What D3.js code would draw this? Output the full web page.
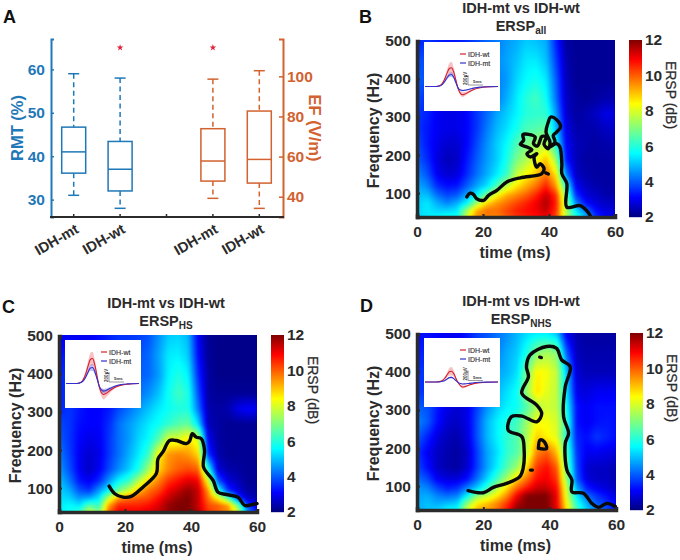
<!DOCTYPE html>
<html>
<head>
<meta charset="utf-8">
<script src="https://cdn.jsdelivr.net/npm/d3@7"></script>
<style>
  html, body { margin: 0; background: #fff; }
  svg { display: block; }
  text { font-family: "Liberation Sans", Arial, sans-serif; }
</style>
</head>
<body>
<svg id="fig" width="680" height="560"></svg>
<script>
// ---- box plot data (panel A) ----
const boxGroups = ["IDH-mt", "IDH-wt", "IDH-mt", "IDH-wt"];
const rmtBoxes = [
  { lo: 31, q1: 36.1, med: 41, q3: 46.7, hi: 59, out: [] },
  { lo: 28, q1: 32, med: 37, q3: 43.4, hi: 58, out: [65] }
];
const efBoxes = [
  { lo: 39.2, q1: 47.8, med: 57.8, q3: 73.9, hi: 98.6, out: [114.3] },
  { lo: 34.2, q1: 46.8, med: 58.6, q3: 82.7, hi: 102.8, out: [] }
];

// ---- time-frequency grids (ERSP in dB) ----
const timeBins = [0,3,6,9,12,15,18,21,24,27,30,33,36,39,42,45,48,51,54,57,60];
const freqBins = [500,450,400,350,310,270,230,190,150,120,95,75,55,37];

const erspAll = [
  [3.4,3.6,3.4,3.3,3.3,3.5,3.8,4.1,4.3,4.6,4.8,5.1,5.0,4.8,3.4,2.3,2.2,2.2,2.2,2.2,2.2],
  [3.8,3.9,3.4,3.1,3.2,3.5,3.9,4.3,4.5,4.7,5.0,5.4,5.4,5.0,3.7,2.4,2.2,2.2,2.2,2.2,2.2],
  [4.0,3.9,3.3,3.0,3.1,3.4,3.8,4.1,4.3,4.6,5.2,5.6,5.8,5.4,4.0,2.5,2.2,2.2,2.2,2.2,2.2],
  [3.8,3.5,3.2,2.9,3.0,3.3,3.8,4.1,4.3,4.8,5.4,6.0,6.3,5.7,4.2,2.6,2.3,2.2,2.3,2.4,2.4],
  [3.6,3.4,3.0,2.9,2.9,3.1,3.6,4.1,4.7,5.1,5.5,6.0,6.1,6.1,4.6,2.7,2.3,2.4,2.6,2.9,2.8],
  [3.6,3.3,3.0,2.9,2.9,3.1,3.6,4.3,4.9,5.3,5.8,6.4,6.5,6.7,5.0,2.9,2.4,2.4,2.4,2.6,2.6],
  [3.8,3.3,2.9,2.7,2.7,3.1,3.8,4.5,5.1,5.6,6.4,6.9,7.3,7.7,5.8,3.1,2.5,2.4,2.3,2.4,2.4],
  [4.0,3.5,2.8,2.5,2.6,3.3,4.0,4.6,5.1,5.8,6.9,7.5,8.2,9.0,7.3,3.3,2.5,2.3,2.3,2.3,2.3],
  [4.4,3.9,3.0,2.7,2.8,3.5,4.2,4.8,5.4,6.2,7.7,8.4,9.0,9.8,8.6,4.4,2.6,2.4,2.3,2.3,2.3],
  [4.8,4.4,3.5,3.2,3.3,4.0,4.7,5.3,6.4,7.7,8.6,9.2,9.8,10.6,9.4,6.0,3.0,2.6,2.4,2.3,2.3],
  [5.0,5.0,4.2,3.8,4.0,4.8,5.6,7.0,8.4,9.2,9.6,10,10.6,11.4,10.4,7.0,3.6,2.8,2.6,2.4,2.4],
  [5.1,5.4,4.8,4.4,4.8,5.6,7.4,8.8,9.4,9.8,10.2,10.6,11,11.6,10.6,7.4,4.4,3.2,2.8,2.6,2.6],
  [5.2,5.4,5.2,5.2,5.4,7.4,9.2,9.8,9.8,10.2,10.6,10.8,11,11.4,10.4,7.6,5.4,4.2,3.2,2.8,2.8],
  [5.2,5.4,5.6,5.8,5.8,8.0,9.6,9.6,9.6,10,10.4,10.6,10.8,11,10.2,7.6,6.0,5.0,3.6,3.0,2.9]
];
const erspHS = [
  [3.0,3.0,3.0,3.0,3.2,3.4,3.6,3.6,3.7,3.9,4.5,5.1,5.2,4.9,3.0,2.2,2.1,2.1,2.1,2.1,2.1],
  [3.2,3.4,3.3,3.1,3.1,3.4,3.6,3.7,3.9,4.1,4.7,5.4,5.5,5.1,3.2,2.2,2.1,2.1,2.1,2.1,2.1],
  [3.4,3.6,3.3,3.1,3.0,3.3,3.7,3.9,4.0,4.1,4.6,5.5,5.9,5.5,3.5,2.3,2.1,2.1,2.1,2.1,2.1],
  [3.4,3.6,3.3,3.1,3.0,3.2,3.7,3.9,4.2,4.5,5.0,5.7,6.3,5.9,3.9,2.3,2.2,2.2,2.2,2.2,2.2],
  [3.4,3.6,3.3,3.1,3.1,3.3,3.8,4.2,4.6,5.0,5.4,5.7,5.9,5.9,4.3,2.4,2.3,2.4,2.9,3.1,3.0],
  [3.8,3.6,3.2,3.1,3.1,3.5,4.2,4.6,5.0,5.4,5.7,6.1,6.5,6.7,5.3,2.5,2.3,2.2,2.2,2.2,2.2],
  [4.0,3.6,3.1,2.9,3.0,3.6,4.2,4.6,5.2,5.6,6.5,8.0,8.0,8.6,8.0,3.0,2.3,2.2,2.2,2.2,2.2],
  [4.3,3.7,3.0,2.7,2.9,3.6,4.2,4.8,5.4,6.2,8.4,9.4,9.6,9.4,8.8,3.6,2.4,2.2,2.2,2.2,2.2],
  [4.6,3.9,3.0,2.6,3.0,3.8,4.5,5.1,5.9,7.4,8.8,9.6,10,10.2,10,6.0,2.8,2.4,2.3,2.2,2.2],
  [5.0,4.3,3.3,3.0,3.5,4.6,5.6,6.2,7.6,8.8,9.6,10.4,10.8,11.2,11,8.2,4.0,2.8,2.5,2.2,2.2],
  [5.2,4.8,3.9,3.6,4.6,5.6,6.8,7.8,9.0,9.8,10.2,11,11.4,11.8,11.4,9.4,6.0,3.6,2.8,2.3,2.3],
  [5.3,5.2,4.6,4.8,5.4,7.8,9.4,9.8,10,10.2,10.8,11.4,11.8,12,11.4,9.8,8.4,6.6,3.8,2.6,2.4],
  [5.4,5.6,5.4,6.6,6.2,9.4,10.6,10.6,10.6,10.8,11.2,11.8,12,12,11.4,10.2,10,9.4,7,3.8,2.8],
  [5.4,5.8,6.2,8.0,7.0,10,11,11,11,11.2,11.4,11.8,12,12,11.6,10.4,10,9.6,8,4.6,3.2]
];
const erspNHS = [
  [3.2,3.2,3.1,3.0,3.0,3.3,3.7,3.9,4.2,4.5,4.9,5.3,5.5,5.5,5.1,3.0,2.4,2.3,2.3,2.3,2.3],
  [3.4,3.4,3.2,3.0,3.0,3.3,3.8,4.2,4.4,4.8,5.1,5.9,7.1,7.5,7.1,4.0,2.5,2.4,2.4,2.4,2.4],
  [3.6,3.6,3.4,3.0,2.9,3.2,3.9,4.4,4.7,4.9,5.3,6.9,8.5,8.3,7.7,5.0,2.7,2.5,2.5,2.5,2.5],
  [3.6,3.6,3.2,2.9,2.8,3.0,3.7,4.4,4.9,5.3,5.7,7.3,8.7,8.1,7.7,5.3,2.9,2.8,3.0,3.0,3.0],
  [4.0,3.9,3.3,2.9,2.7,2.9,3.7,4.5,5.1,5.5,5.7,6.5,7.5,7.9,7.7,5.7,3.2,3.0,3.2,3.2,3.2],
  [4.4,4.0,3.2,2.7,2.6,2.9,3.9,4.9,5.5,5.9,6.3,7.3,8.3,8.3,7.9,6.1,3.2,3.0,3.2,3.3,3.2],
  [4.0,3.4,2.8,2.5,2.4,2.8,3.9,4.9,5.5,6.1,6.5,7.5,8.9,8.5,8.1,5.9,3.4,3.2,3.6,3.4,3.2],
  [3.6,3.0,2.6,2.4,2.3,2.6,3.7,4.7,5.3,6.1,6.5,7.7,9.6,10,9.0,6.4,3.6,3.0,3.0,2.9,2.8],
  [3.8,3.2,2.6,2.4,2.3,2.7,3.7,4.7,5.5,6.5,7.3,8.8,10.4,10.8,10,6.8,3.8,2.7,2.6,2.6,2.4],
  [4.2,3.8,3.0,2.8,2.8,3.2,4.2,5.2,6.3,7.5,8.8,9.8,10.8,11,10.4,7.2,4.0,2.8,2.6,2.6,2.4],
  [4.6,4.4,3.8,3.4,3.6,4.4,5.2,6.2,7.6,8.8,10,10.8,11.4,11.4,10.8,7.8,4.8,3.4,3.0,2.8,2.5],
  [4.7,4.8,4.4,4.2,4.4,5.6,7.2,7.8,8.6,9.6,11,12,12,12,11,8.0,5.4,4.2,3.6,3.2,2.8],
  [4.8,5.0,4.8,5.0,5.2,7.2,8.6,9.0,9.6,10.4,11.6,12,12,12,11,8.4,6.0,4.8,4.0,3.6,3.0],
  [4.8,5.0,5.2,5.6,5.8,8.0,9.2,9.4,9.8,10.8,12,12,12,12,11.2,8.6,6.4,5.2,4.4,4.0,3.2]
];

// ---- significance outlines, [time ms, frequency Hz] ----
const sigAll = [
  [[15.1,90],[16.1,100],[17.1,96.5],[18.1,85],[20.2,81],[21.7,94],[24.2,107],[27.2,129],[31.3,140],[36.3,146.5],[37.8,151],[38.5,164],[37.3,177],[36.3,168],[35.5,195],[36.3,203.5],[34.3,195],[33.3,203.5],[34.8,214],[33.3,221],[31.3,228],[32.3,239],[32.1,253.5],[33.8,254.5],[35.8,247.5],[35.3,230],[36.5,223.7],[37.3,238.6],[37.8,249],[39.1,247.5],[38.5,228],[39.8,216.7],[40.3,234],[39.1,260.5],[39.8,287],[40.5,300],[42.3,293],[43.5,273.7],[42.3,260.5],[41.3,251.8],[41.8,234],[40.3,221],[42.3,230],[43.3,221],[43.9,177],[43.9,151],[45.4,125],[45.4,63],[49.4,67],[51.4,54],[52.6,39]],
  [[39,153],[39.8,150]]
];
const sigHS = [
  [[15.2,105],[16.9,85],[19.4,76],[21.9,78],[25.5,103],[29.5,138],[30,177],[31.5,195],[33.5,225],[35.6,225],[38.6,217],[39.6,224],[40.4,243],[41.6,234],[43.1,230],[44.1,199],[43.8,155],[46.7,120],[48.2,89],[50.7,83],[54.2,76],[56.3,54],[58.8,57],[60,59]]
];
const sigNHS = [
  [[15.4,88],[20,82.5],[23,96.5],[27,107],[31,125],[32,146.5],[32.3,195],[31.6,230],[27.5,247],[28.5,282.5],[31.6,284],[36.1,269],[37.6,291],[36.1,313],[31.6,344],[33.6,388],[33,414],[34.1,445],[39.1,467],[42.1,462],[43.6,432],[46.2,414],[44.7,361],[44.2,282.5],[45.7,239],[44.7,212],[45.2,142],[46.7,116],[46.7,85],[50.2,81],[52.7,54.5],[54.7,44],[57.3,54.5],[59.8,46]],
  [[36.6,199],[37.1,221],[38.3,217],[39.1,199],[36.6,199]],
  [[37,439],[37.5,438]],
  [[34.2,142],[34.8,142]]
];

// ---- evoked waveforms for the insets (µV over ms) ----
const waveTime = [0,5,7,8,9,10,11,12,13,14,15,16,17,18,20,22,25,28,33];
const wtAll = [0,0,30,90,200,340,450,470,360,150,-60,-170,-205,-190,-130,-75,-30,-10,0];
const mtAll = [0,0,20,60,130,220,285,300,230,90,-40,-90,-100,-95,-70,-40,-15,-5,0];
const sdWtAll = [0,0,10,25,50,90,130,150,110,60,40,50,60,50,30,15,5,0,0];
const sdMtAll = [0,0,5,12,25,40,55,60,45,25,15,20,25,20,15,8,3,0,0];
const wtHS = [0,0,40,120,260,440,600,625,470,200,-80,-230,-275,-250,-170,-100,-40,-15,0];
const mtHS = [0,0,30,80,170,290,385,400,300,120,-60,-160,-190,-175,-120,-70,-25,-10,0];
const sdWtHS = [0,0,15,35,70,120,160,170,130,80,60,90,125,100,60,30,10,0,0];
const sdMtHS = [0,0,8,18,35,55,75,85,60,35,30,45,60,50,30,15,5,0,0];
const wtNHS = [0,0,15,45,100,180,255,270,210,90,-20,-90,-125,-115,-75,-40,-15,-5,0];
const mtNHS = [0,0,6,18,40,75,110,115,85,35,-10,-40,-50,-48,-35,-20,-8,-3,0];
const sdWtNHS = [0,0,8,18,35,60,95,105,80,40,15,25,35,30,15,8,3,0,0];
const sdMtNHS = [0,0,3,6,10,15,20,22,16,10,6,8,10,8,5,3,1,0,0];

const colorTicks = [2, 4, 6, 8, 10, 12];
const timeTicks = [0, 20, 40, 60];
const freqTicks = [100, 200, 300, 400, 500];
const rmtTicks = [30, 40, 50, 60];
const efTicks = [40, 60, 80, 100];

const svg = d3.select("#fig");
svg.append("rect").attr("width", 680).attr("height", 560).attr("fill", "#fff");

const blue = "#1f78b8", orange = "#d2622f", dark = "#2b2b2b";

// MATLAB-style jet colour map over the ERSP range
const jet = d3.scaleLinear()
  .domain([0, 0.11, 0.36, 0.64, 0.89, 1].map(p => 2 + p * 10))
  .range(["#00007f", "#0000ff", "#00ffff", "#ffff00", "#ff0000", "#7f0000"])
  .clamp(true);

// ---- panel A: paired box plots on two y axes ----
function drawBoxPanel() {
  const g = svg.append("g");
  const L = 51, R = 283, T = 39, B = 217;
  const cat = d3.scaleLinear().domain([0, 4]).range([73.7, 259.3]);
  const yL = d3.scaleLinear().domain([26, 67]).range([B, T]);
  const yR = d3.scaleLinear().domain([29.9, 118.6]).range([B, T]);
  const boxW = 24;

  const drawBox = (d, cx, y, col) => {
    const b = g.append("g").attr("fill", "none").attr("stroke", col).attr("stroke-width", 1.5);
    b.append("line").attr("x1", cx).attr("x2", cx).attr("y1", y(d.hi)).attr("y2", y(d.q3)).attr("stroke-dasharray", "5 3.5");
    b.append("line").attr("x1", cx).attr("x2", cx).attr("y1", y(d.q1)).attr("y2", y(d.lo)).attr("stroke-dasharray", "5 3.5");
    [d.hi, d.lo].forEach(v => b.append("line").attr("x1", cx - 5.5).attr("x2", cx + 5.5).attr("y1", y(v)).attr("y2", y(v)));
    b.append("rect").attr("x", cx - boxW / 2).attr("width", boxW).attr("y", y(d.q3)).attr("height", y(d.q1) - y(d.q3));
    b.append("line").attr("x1", cx - boxW / 2).attr("x2", cx + boxW / 2).attr("y1", y(d.med)).attr("y2", y(d.med));
    d.out.forEach(v => g.append("path")
      .attr("d", d3.symbol(d3.symbolStar, 14)())
      .attr("transform", `translate(${cx},${y(v)})`)
      .attr("fill", "#e0203a"));
  };
  rmtBoxes.forEach((d, i) => drawBox(d, cat(i), yL, blue));
  efBoxes.forEach((d, i) => drawBox(d, cat(i + 3), yR, orange));

  // left axis
  const ax = g.append("g").attr("transform", `translate(${L},0)`)
    .call(d3.axisLeft(yL).tickValues(rmtTicks).tickSize(-3).tickPadding(6));
  ax.select(".domain").attr("stroke", blue).attr("stroke-width", 2);
  ax.selectAll(".tick line").attr("stroke", blue).attr("stroke-width", 1.5);
  ax.selectAll("text").attr("fill", blue).attr("font-size", 15.5).attr("font-weight", 700);

  // right axis
  const ar = g.append("g").attr("transform", `translate(${R},0)`)
    .call(d3.axisRight(yR).tickValues(efTicks).tickSize(-4).tickPadding(4));
  ar.select(".domain").attr("stroke", orange).attr("stroke-width", 2);
  ar.selectAll(".tick line").attr("stroke", orange).attr("stroke-width", 1.5);
  ar.selectAll("text").attr("fill", orange).attr("font-size", 15.5).attr("font-weight", 700);

  // baseline and category ticks
  g.append("line").attr("x1", L - 1).attr("x2", R + 1).attr("y1", B).attr("y2", B).attr("stroke", dark).attr("stroke-width", 1.8);
  [0, 1, 2, 3, 4].forEach(i => g.append("line")
    .attr("x1", cat(i)).attr("x2", cat(i)).attr("y1", B).attr("y2", B - 3).attr("stroke", dark).attr("stroke-width", 1.5));
  const labelAt = [0, 1, 3, 4];
  boxGroups.forEach((name, i) => g.append("text")
    .attr("transform", `translate(${cat(labelAt[i]) + 6},${B + 15}) rotate(-30)`)
    .attr("text-anchor", "end")
    .attr("font-size", 14.5).attr("font-weight", 700).attr("fill", dark)
    .text(name));

  g.append("text").attr("transform", `translate(23,128) rotate(-90)`).attr("text-anchor", "middle")
    .attr("font-size", 16.5).attr("font-weight", 700).attr("fill", blue).text("RMT (%)");
  g.append("text").attr("transform", `translate(309,128) rotate(90)`).attr("text-anchor", "middle")
    .attr("font-size", 16.5).attr("font-weight", 700).attr("fill", orange).text("EF (V/m)");
}

// Paint a grid onto a canvas (bilinear, softened) and return it as a data URL
function fieldImage(grid, x, y, w, h, left, top) {
  const pad = 8;
  const src = document.createElement("canvas");
  src.width = w + 2 * pad; src.height = h + 2 * pad;
  const ctx = src.getContext("2d");
  const img = ctx.createImageData(src.width, src.height);
  const tIdx = d3.scaleLinear().domain(timeBins).range(timeBins.map((_, i) => i)).clamp(true);
  const fIdx = d3.scaleLinear().domain(freqBins).range(freqBins.map((_, i) => i)).clamp(true);
  for (let py = 0; py < src.height; py++) {
    const fi = fIdx(y.invert(top + py - pad));
    const r0 = Math.min(Math.floor(fi), freqBins.length - 2), fr = fi - r0;
    for (let px = 0; px < src.width; px++) {
      const ti = tIdx(x.invert(left + px - pad));
      const c0 = Math.min(Math.floor(ti), timeBins.length - 2), fc = ti - c0;
      const v = (grid[r0][c0] * (1 - fc) + grid[r0][c0 + 1] * fc) * (1 - fr)
              + (grid[r0 + 1][c0] * (1 - fc) + grid[r0 + 1][c0 + 1] * fc) * fr;
      const c = d3.rgb(jet(v)), k = 4 * (py * src.width + px);
      img.data[k] = c.r; img.data[k + 1] = c.g; img.data[k + 2] = c.b; img.data[k + 3] = 255;
    }
  }
  ctx.putImageData(img, 0, 0);
  const out = document.createElement("canvas");
  out.width = w; out.height = h;
  const o = out.getContext("2d");
  o.filter = "blur(1.5px)";
  o.drawImage(src, -pad, -pad);
  return out.toDataURL();
}

// ---- panels B, C, D: time-frequency map with colour bar and inset ----
function drawErspPanel(p) {
  const g = svg.append("g");
  const [x0, x1, y0, y1] = p.box;
  const x = d3.scaleLinear().domain([0, 60]).range([x0, x1]);
  const y = d3.scaleLinear().domain([37, 500]).range([y1, y0 + 1]);

  g.append("image").attr("x", x0).attr("y", y0).attr("width", x1 - x0).attr("height", y1 - y0)
    .attr("href", fieldImage(p.grid, x, y, x1 - x0, y1 - y0, x0, y0));

  // significance outlines
  const outline = d3.line().x(d => x(d[0])).y(d => y(d[1])).curve(d3.curveCatmullRom.alpha(0.5));
  g.selectAll("path.sig").data(p.sig).join("path").attr("class", "sig")
    .attr("d", outline).attr("fill", "none").attr("stroke", "#0a0a0a")
    .attr("stroke-width", 3.4).attr("stroke-linecap", "round").attr("stroke-linejoin", "round");

  // axes
  const ax = g.append("g").attr("transform", `translate(0,${y1})`)
    .call(d3.axisBottom(x).tickValues(timeTicks).tickSize(-3).tickPadding(9));
  ax.select(".domain").attr("stroke", dark).attr("stroke-width", 3.5);
  const ay = g.append("g").attr("transform", `translate(${x0},0)`)
    .call(d3.axisLeft(y).tickValues(freqTicks).tickSize(-3).tickPadding(6));
  ay.select(".domain").attr("stroke", dark).attr("stroke-width", 3.5);
  [ax, ay].forEach(a => {
    a.selectAll(".tick line").attr("stroke", dark).attr("stroke-width", 2);
    a.selectAll("text").attr("fill", dark).attr("font-size", 15.5).attr("font-weight", 700);
  });

  g.append("text").attr("x", (x0 + x1) / 2 - 1).attr("y", y1 + 41).attr("text-anchor", "middle")
    .attr("font-size", 16).attr("font-weight", 700).attr("fill", dark).text("time (ms)");
  g.append("text").attr("transform", `translate(${x0 - 38},${(y0 + y1) / 2 + 2}) rotate(-90)`).attr("text-anchor", "middle")
    .attr("font-size", 16).attr("font-weight", 700).attr("fill", dark).text("Frequency (Hz)");

  // titles
  const cx = (x0 + x1) / 2 + p.titleShift;
  g.append("text").attr("x", cx).attr("y", y0 - 27.5).attr("text-anchor", "middle")
    .attr("font-size", 14.5).attr("font-weight", 700).attr("fill", dark).text("IDH-mt vs IDH-wt");
  const t2 = g.append("text").attr("x", cx).attr("y", y0 - 9.5).attr("text-anchor", "middle")
    .attr("font-size", 14.5).attr("font-weight", 700).attr("fill", dark);
  t2.append("tspan").text("ERSP");
  t2.append("tspan").attr("dy", 3).attr("font-size", 10).text(p.sub);

  // colour bar
  const bx = x1 + 14, bw = 13;
  const cy = d3.scaleLinear().domain([2, 12]).range([y1, y0]);
  g.selectAll("rect.cb").data(d3.range(y0, y1)).join("rect").attr("class", "cb")
    .attr("x", bx).attr("width", bw).attr("y", d => d).attr("height", 1.2)
    .attr("fill", d => jet(cy.invert(d + 0.5)));
  const ac = g.append("g").attr("transform", `translate(${bx + bw},0)`)
    .call(d3.axisRight(cy).tickValues(colorTicks).tickSize(0).tickPadding(3));
  ac.select(".domain").remove();
  ac.selectAll("text").attr("fill", dark).attr("font-size", 15.5).attr("font-weight", 700);
  g.append("text").attr("transform", `translate(${bx + 36.5},${y0 + 55}) rotate(90)`).attr("text-anchor", "middle")
    .attr("font-size", 14).attr("font-weight", 400).attr("stroke", dark).attr("stroke-width", 0.25).attr("fill", dark).text("ERSP (dB)");

  // inset with evoked responses
  const [ix, iy, iw, ih] = p.inset;
  const ins = g.append("g");
  ins.append("rect").attr("x", ix).attr("y", iy).attr("width", iw).attr("height", ih).attr("fill", "#fff");
  const wx = d3.scaleLinear().domain([0, 33]).range([ix + 1, ix + 74]);
  const wy = d3.scaleLinear().domain([0, 1000]).range([iy + p.baseline, iy + p.baseline - 40]);
  const band = (m, s) => d3.area().x((d, i) => wx(waveTime[i]))
    .y0((d, i) => wy(m[i] - s[i])).y1((d, i) => wy(m[i] + s[i])).curve(d3.curveMonotoneX)(m);
  const trace = m => d3.line().x((d, i) => wx(waveTime[i])).y(d => wy(d)).curve(d3.curveMonotoneX)(m);
  ins.append("path").attr("d", band(p.wt, p.sdWt)).attr("fill", "#e8363c").attr("fill-opacity", 0.3);
  ins.append("path").attr("d", band(p.mt, p.sdMt)).attr("fill", "#4040e0").attr("fill-opacity", 0.3);
  ins.append("path").attr("d", trace(p.wt)).attr("fill", "none").attr("stroke", "#d4202c").attr("stroke-width", 1.1);
  ins.append("path").attr("d", trace(p.mt)).attr("fill", "none").attr("stroke", "#3030cc").attr("stroke-width", 1.1);

  // inset legend
  [["IDH-wt", "#d4202c", 12], ["IDH-mt", "#3030cc", 21]].forEach(([name, col, dy]) => {
    ins.append("line").attr("x1", ix + 36).attr("x2", ix + 42).attr("y1", iy + dy).attr("y2", iy + dy).attr("stroke", col).attr("stroke-width", 1.2);
    ins.append("text").attr("x", ix + 44).attr("y", iy + dy + 2.5).attr("font-size", 7).attr("fill", "#333").attr("stroke", "#333").attr("stroke-width", 0.15).text(name);
  });

  // inset scale bar
  const sx = ix + 44, sy = iy + p.baseline - 1.5;
  ins.append("path").attr("d", `M${sx},${sy - 10}V${sy}H${sx + 15}`).attr("fill", "none").attr("stroke", "#555").attr("stroke-width", 0.6);
  ins.append("text").attr("transform", `translate(${sx - 1.5},${sy}) rotate(-90)`).attr("font-size", 4.6).attr("font-weight", 700).attr("fill", "#333").text("200µV");
  ins.append("text").attr("x", sx + 5).attr("y", sy - 2).attr("font-size", 4.4).attr("font-weight", 700).attr("fill", "#333").text("5ms");
}

drawBoxPanel();
drawErspPanel({ box: [417, 615, 40, 217], grid: erspAll, sig: sigAll, sub: "all", titleShift: 5,
  inset: [424, 42, 76, 69], baseline: 44.5, wt: wtAll, mt: mtAll, sdWt: sdWtAll, sdMt: sdMtAll });
drawErspPanel({ box: [59, 257, 335, 512], grid: erspHS, sig: sigHS, sub: "HS", titleShift: 8,
  inset: [65, 340, 76, 68], baseline: 43.5, wt: wtHS, mt: mtHS, sdWt: sdWtHS, sdMt: sdMtHS });
drawErspPanel({ box: [417, 616, 333, 510], grid: erspNHS, sig: sigNHS, sub: "NHS", titleShift: 4.5,
  inset: [424, 338, 76, 69], baseline: 44, wt: wtNHS, mt: mtNHS, sdWt: sdWtNHS, sdMt: sdMtNHS });

// panel letters
[["A", 3, 23], ["B", 359, 23], ["C", 2, 313], ["D", 360, 312]].forEach(([s, lx, ly]) =>
  svg.append("text").attr("x", lx).attr("y", ly).attr("font-size", 18).attr("font-weight", 700).attr("fill", "#111").text(s));
</script>
</body>
</html>
